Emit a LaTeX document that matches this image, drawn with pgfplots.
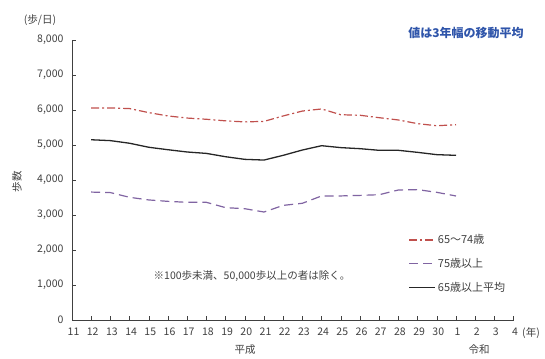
\documentclass[border=0pt]{standalone}
\usepackage{fontspec}
\setmainfont{Noto Sans CJK JP}
\usepackage{pgfplots}
\pgfplotsset{compat=1.18}
\definecolor{rd}{RGB}{192,80,77}
\definecolor{pu}{RGB}{128,100,162}
\definecolor{tx}{RGB}{64,64,64}
\definecolor{bl}{RGB}{47,85,170}
\begin{document}
\begin{tikzpicture}[x=1pt,y=1pt]
\useasboundingbox (0,0) rectangle (545,358);
\begin{axis}[
  at={(72pt,38pt)}, anchor=south west,
  scale only axis, width=441.6pt, height=280pt,
  xmin=11, xmax=34, ymin=0, ymax=8000,
  axis lines*=left,
  axis line style={black!75, line width=0.8pt},
  tick style={black!75, line width=0.6pt},
  tick align=inside, major tick length=4pt,
  xtick={11,...,34},
  xticklabels={11,12,13,14,15,16,17,18,19,20,21,22,23,24,25,26,27,28,29,30,1,2,3,4},
  ytick={0,1000,...,8000},
  scaled y ticks=false,
  /pgf/number format/.cd, 1000 sep={,}, assume math mode=true, /pgfplots/.cd,
  tick label style={font=\fontsize{10.5}{12}\selectfont, color=tx},
  xticklabel style={yshift=-4pt, xshift=1.5pt},
  yticklabel style={xshift=-5pt},
  legend style={draw=none, fill=none, at={(0.755,0.32)}, anchor=north west,
    font=\fontsize{11}{13}\selectfont, text=tx, row sep=9pt,
    legend cell align=left},
  legend image code/.code={\draw[#1] (0pt,0pt) -- (26pt,0pt);},
  clip=false,
]
\addplot[rd, line width=1.2pt, dash pattern=on 8pt off 3pt on 2pt off 3pt] coordinates {
(12,6060)(13,6060)(14,6040)(15,5925)(16,5830)(17,5770)(18,5735)(19,5690)(20,5660)(21,5675)
(22,5830)(23,5970)(24,6030)(25,5865)(26,5850)(27,5780)(28,5715)(29,5610)(30,5550)(31,5580)};
\addlegendentry{65～74歳}
\addplot[pu, line width=1.2pt, dash pattern=on 9pt off 5pt] coordinates {
(12,3655)(13,3640)(14,3505)(15,3430)(16,3390)(17,3362)(18,3362)(19,3210)(20,3180)(21,3085)
(22,3275)(23,3335)(24,3545)(25,3545)(26,3560)(27,3580)(28,3715)(29,3725)(30,3648)(31,3543)};
\addlegendentry{75歳以上}
\addplot[black!85, line width=1.3pt] coordinates {
(12,5150)(13,5125)(14,5050)(15,4935)(16,4865)(17,4800)(18,4760)(19,4665)(20,4590)(21,4570)
(22,4705)(23,4857)(24,4980)(25,4925)(26,4895)(27,4848)(28,4848)(29,4790)(30,4724)(31,4705)};
\addlegendentry{65歳以上平均}
\end{axis}
\node[text=tx, font=\fontsize{10.5}{12}\selectfont] at (40,338) {(歩/日)};
\node[text=tx, font=\fontsize{10.5}{12}\selectfont, rotate=90] at (17,176) {歩数};
\node[text=bl, font=\fontsize{12}{14}\selectfont\bfseries] at (466,325) {値は3年幅の移動平均};
\node[text=tx, font=\fontsize{10.5}{12}\selectfont] at (252,82) {※100歩未満、50,000歩以上の者は除く。};
\node[text=tx, font=\fontsize{10.5}{12}\selectfont] at (245,8) {平成};
\node[text=tx, font=\fontsize{10.5}{12}\selectfont] at (479,8) {令和};
\node[text=tx, font=\fontsize{10.5}{12}\selectfont] at (531,25) {(年)};
\end{tikzpicture}
\end{document}
